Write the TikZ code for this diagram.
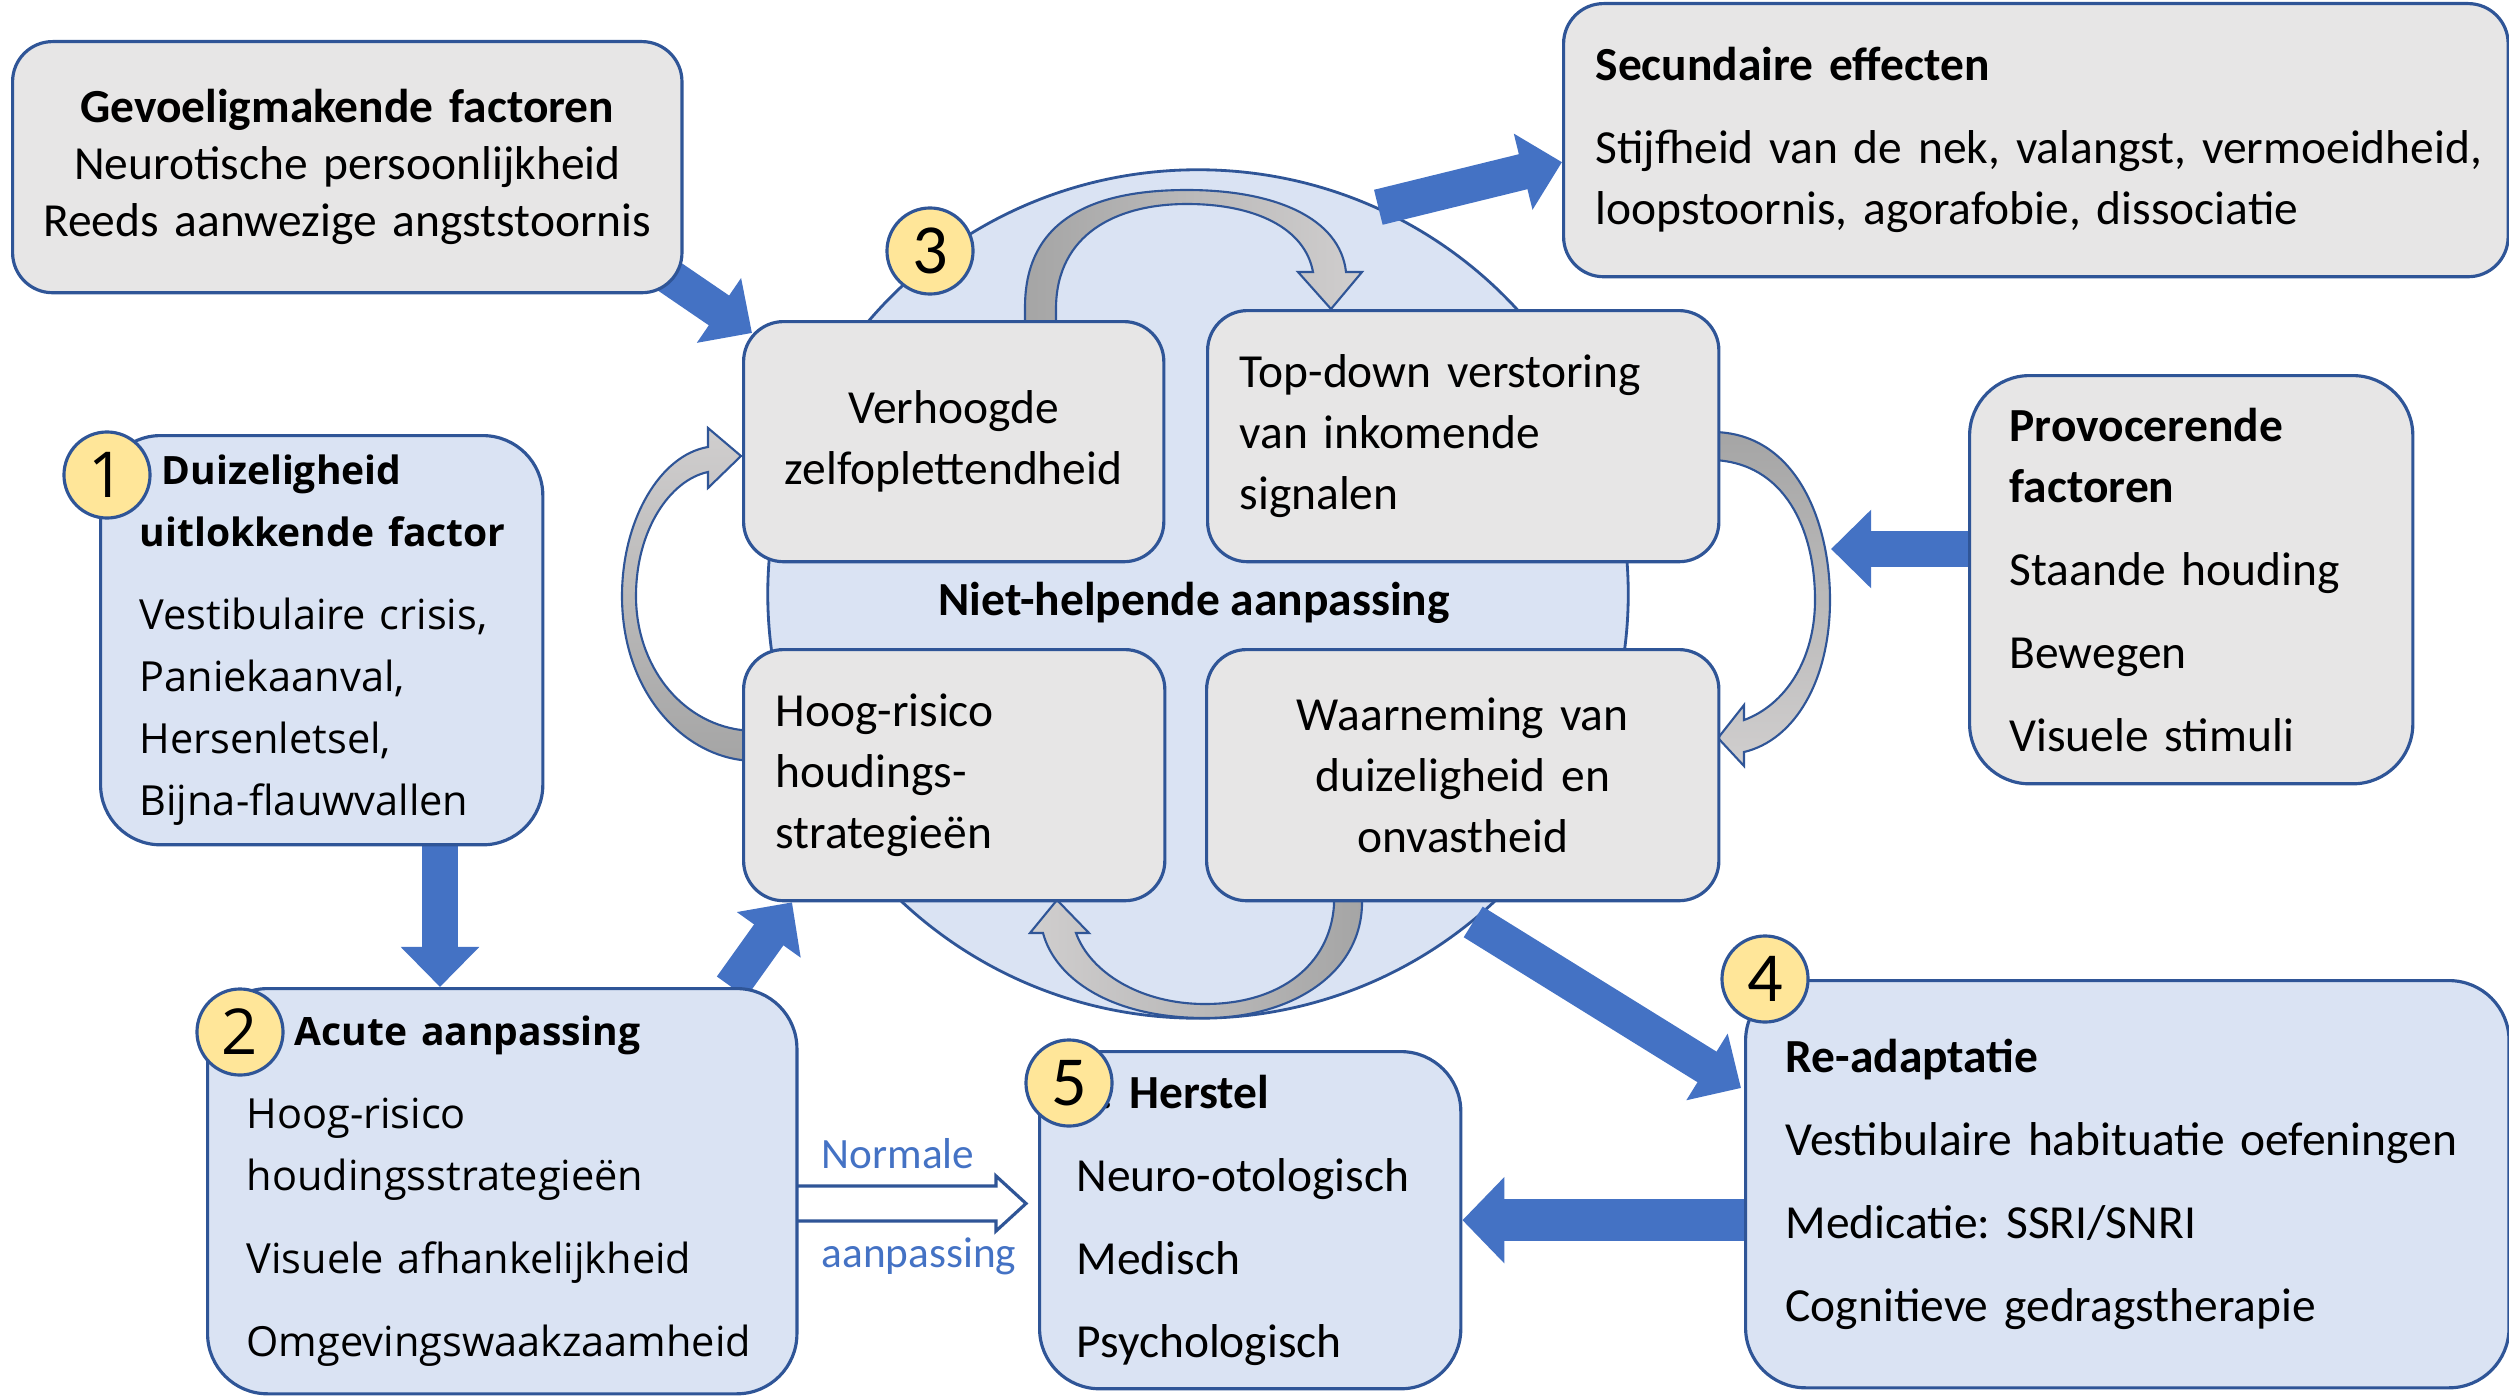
\documentclass[tikz,border=0pt]{standalone}
\usepackage{fontspec}
\setmainfont{Carlito}
\newfontfamily\segoe{Open Sans}
\usetikzlibrary{arrows.meta,positioning,calc,shapes.geometric,backgrounds}
\usepackage{xcolor}
\definecolor{boxline}{HTML}{2F5597}
\definecolor{boxgray}{HTML}{E7E6E6}
\definecolor{boxblue}{HTML}{DAE3F3}
\definecolor{arrowblue}{HTML}{4472C4}
\definecolor{numyellow}{HTML}{FFE699}
\definecolor{loopdark}{HTML}{A5A5A5}
\definecolor{looplight}{HTML}{D0CECE}
\hyphenpenalty=10000
\exhyphenpenalty=10000
\newcommand{\segtitle}[1]{{\bfseries\fontsize{11.1}{17.6}\selectfont #1}}

\begin{document}
\begin{tikzpicture}[x=0.01cm, y=-0.01cm,
    box/.style={draw=boxline, line width=0.9pt, fill=boxgray, rounded corners=0.4cm, anchor=north west, inner ysep=0pt, align=left, font=\fontsize{13.5}{17.4}\selectfont},
    bluebox/.style={box, fill=boxblue, rounded corners=0.6cm},
    segoebox/.style={bluebox, font=\segoe\fontsize{11.8}{17.6}\selectfont},
    num/.style={circle, draw=boxline, line width=0.9pt, fill=numyellow, minimum size=0.86cm, inner sep=0pt, font=\fontsize{20}{20}\selectfont},
    bigarrow/.style={draw=arrowblue, line width=0.36cm, -{Triangle[length=0.4cm, width=0.76cm]}},
    loopband/.style={draw=boxline, line width=0.6pt},
    hollowarrow/.style={draw=boxline, fill=white, line width=0.9pt},
    lbl/.style={font=\fontsize{12.3}{15}\selectfont, text=arrowblue, anchor=west, inner sep=0pt},
]
    \useasboundingbox (0,0) rectangle (2509,1397);

    \node[box, align=center, text width=6.29cm, inner xsep=0.2cm, minimum height=2.51cm, font=\fontsize{13.5}{16.2}\selectfont] (gevoel) at (11,40) {\textbf{Gevoeligmakende factoren}\\Neurotische persoonlijkheid\\Reeds aanwezige angststoornis};
    \node[box, text width=8.8cm, inner xsep=0.32cm, minimum height=2.73cm] (secund) at (1562,2) {\textbf{Secundaire effecten}\\[6.2pt]Stijfheid~van~de~nek,~valangst,~vermoeidheid,\\loopstoornis,~agorafobie,~dissociatie};
    \node[box, align=center, text width=3.8cm, inner xsep=0.2cm, minimum height=2.4cm] (verhoogd) at (742,320) {Verhoogde\\zelfoplettendheid};
    \node[box, text width=4.47cm, inner xsep=0.32cm, minimum height=2.51cm] (topdown) at (1206,309) {Top-down verstoring\\van inkomende\\signalen};
    \node[box, text width=3.57cm, inner xsep=0.32cm, minimum height=2.51cm] (hoogrisico) at (742,648) {\mbox{Hoog-risico}\\houdings-\\strategieën};
    \node[box, align=center, text width=4.72cm, inner xsep=0.2cm, minimum height=2.51cm] (waarn) at (1205,648) {Waarneming van\\duizeligheid en\\onvastheid};
    \node[font=\bfseries\fontsize{13.5}{16}\selectfont] (nietlbl) at (1194,603) {Niet-helpende aanpassing};

    \node[segoebox, text width=3.64cm, inner xsep=0.39cm, minimum height=4.09cm] (trigger) at (99,434) {\hspace*{0.22cm}\segtitle{Duizeligheid}\\\segtitle{uitlokkende~factor}\\[6pt]Vestibulaire~crisis,\\Paniekaanval,\\Hersenletsel,\\\mbox{Bijna-flauwvallen}};
    \node[segoebox, text width=5.11cm, inner xsep=0.39cm, minimum height=4.05cm] (acute) at (206,987) {\hspace*{0.48cm}\segtitle{Acute~aanpassing}\\[6pt]\mbox{Hoog-risico}\\houdingsstrategieën\\[6pt]Visuele~afhankelijkheid\\[6pt]Omgevingswaakzaamheid};
    \node[bluebox, text width=3.47cm, inner xsep=0.37cm, minimum height=3.37cm] (herstel) at (1038,1050) {\textbf{\phantom{5}.~Herstel}\\[6.2pt]\mbox{Neuro-otologisch}\\[6.2pt]Medisch\\[6.2pt]Psychologisch};
    \node[bluebox, text width=6.83cm, inner xsep=0.4cm, minimum height=4.07cm] (readapt) at (1744,979) {\textbf{Re-adaptatie}\\[6.2pt]Vestibulaire~habituatie~oefeningen\\[6.2pt]Medicatie:~SSRI/SNRI\\[6.2pt]Cognitieve~gedragstherapie};
    \node[box, rounded corners=0.6cm, text width=3.63cm, inner xsep=0.4cm, minimum height=4.08cm] (provoc) at (1968,374) {\textbf{Provocerende}\\\textbf{factoren}\\[6.2pt]Staande~houding\\[6.2pt]Bewegen\\[6.2pt]Visuele~stimuli};

    \node[lbl] (normlbl) at (821,1154) {Normale};
    \node[lbl] (aanplbl) at (821,1256) {aanpassing};

    \begin{scope}[on background layer]
        \node[ellipse, draw=boxline, fill=boxblue, line width=0.8pt, minimum width=8.6cm, minimum height=8.48cm] (ring) at (1198,594) {};

        \shadedraw[loopband, left color=loopdark, right color=looplight] (1025,322) -- (1025,307) .. controls (1025,215) and (1100,190) .. (1187,190) .. controls (1275,190) and (1340,218) .. (1346,272) -- (1362,272) -- (1331,309) -- (1298,272) -- (1313,272) .. controls (1305,228) and (1255,204) .. (1187,204) .. controls (1115,204) and (1057,235) .. (1056,307) -- (1056,322) -- cycle;
        \shadedraw[loopband, top color=loopdark, bottom color=looplight] (1712,432) .. controls (1795,432) and (1830,520) .. (1830,600) .. controls (1830,680) and (1795,740) .. (1744,752) -- (1744,766) -- (1718,738) -- (1744,705) -- (1744,720) .. controls (1785,705) and (1815,660) .. (1815,600) .. controls (1815,530) and (1785,462) .. (1712,460) -- cycle;
        \shadedraw[loopband, right color=loopdark, left color=looplight] (1362,897) -- (1362,905) .. controls (1360,975) and (1290,1018) .. (1205,1018) .. controls (1110,1018) and (1055,978) .. (1043,933) -- (1030,933) -- (1057,900) -- (1089,933) -- (1076,933) .. controls (1090,972) and (1140,1004) .. (1205,1004) .. controls (1280,1004) and (1330,965) .. (1334,905) -- (1334,897) -- cycle;
        \shadedraw[loopband, bottom color=loopdark, top color=looplight] (745,760) -- (741,760) .. controls (680,752) and (622,690) .. (622,596) .. controls (622,520) and (660,455) .. (708,447) -- (708,428) -- (741,456) -- (708,488) -- (708,472) .. controls (670,480) and (636,530) .. (636,596) .. controls (636,665) and (680,722) .. (741,730) -- (745,730) -- cycle;

        \coordinate (rightloop) at (1831,549);
        \draw[bigarrow] ($(gevoel.south east)+(-16,-19)$) -- ($(verhoogd.north west)+(10,13)$);
        \draw[bigarrow] (ring.65) -- ($(secund.west)+(0,22)$);
        \draw[bigarrow] (provoc.west |- rightloop) -- (rightloop);
        \draw[bigarrow] ($(trigger.south west)+(341,0)$) -- ($(acute.north west)+(234,0)$);
        \draw[bigarrow] ($(acute.north east)+(-67,0)$) -- ($(hoogrisico.south west)+(50,0)$);
        \draw[bigarrow] (ring.-50) -- ($(readapt.north west)+(-3,109)$);
        \draw[bigarrow, line width=0.42cm, -{Triangle[length=0.42cm, width=0.84cm]}] (readapt.west |- herstel.east) -- (herstel.east);

        \filldraw[hollowarrow] (795,1186) -- (996,1186) -- (996,1176) -- (1026,1203.5) -- (996,1231) -- (996,1221) -- (795,1221);
    \end{scope}

    \node[num] (n1) at (107,475) {\segoe\fontsize{18}{18}\selectfont 1};
    \node[num] (n2) at (240,1032) {\segoe\fontsize{18}{18}\selectfont 2};
    \node[num] (n3) at (930,251) {3};
    \node[num] (n4) at (1765,979) {4};
    \node[num] (n5) at (1069,1083) {5};

\end{tikzpicture}
\end{document}
